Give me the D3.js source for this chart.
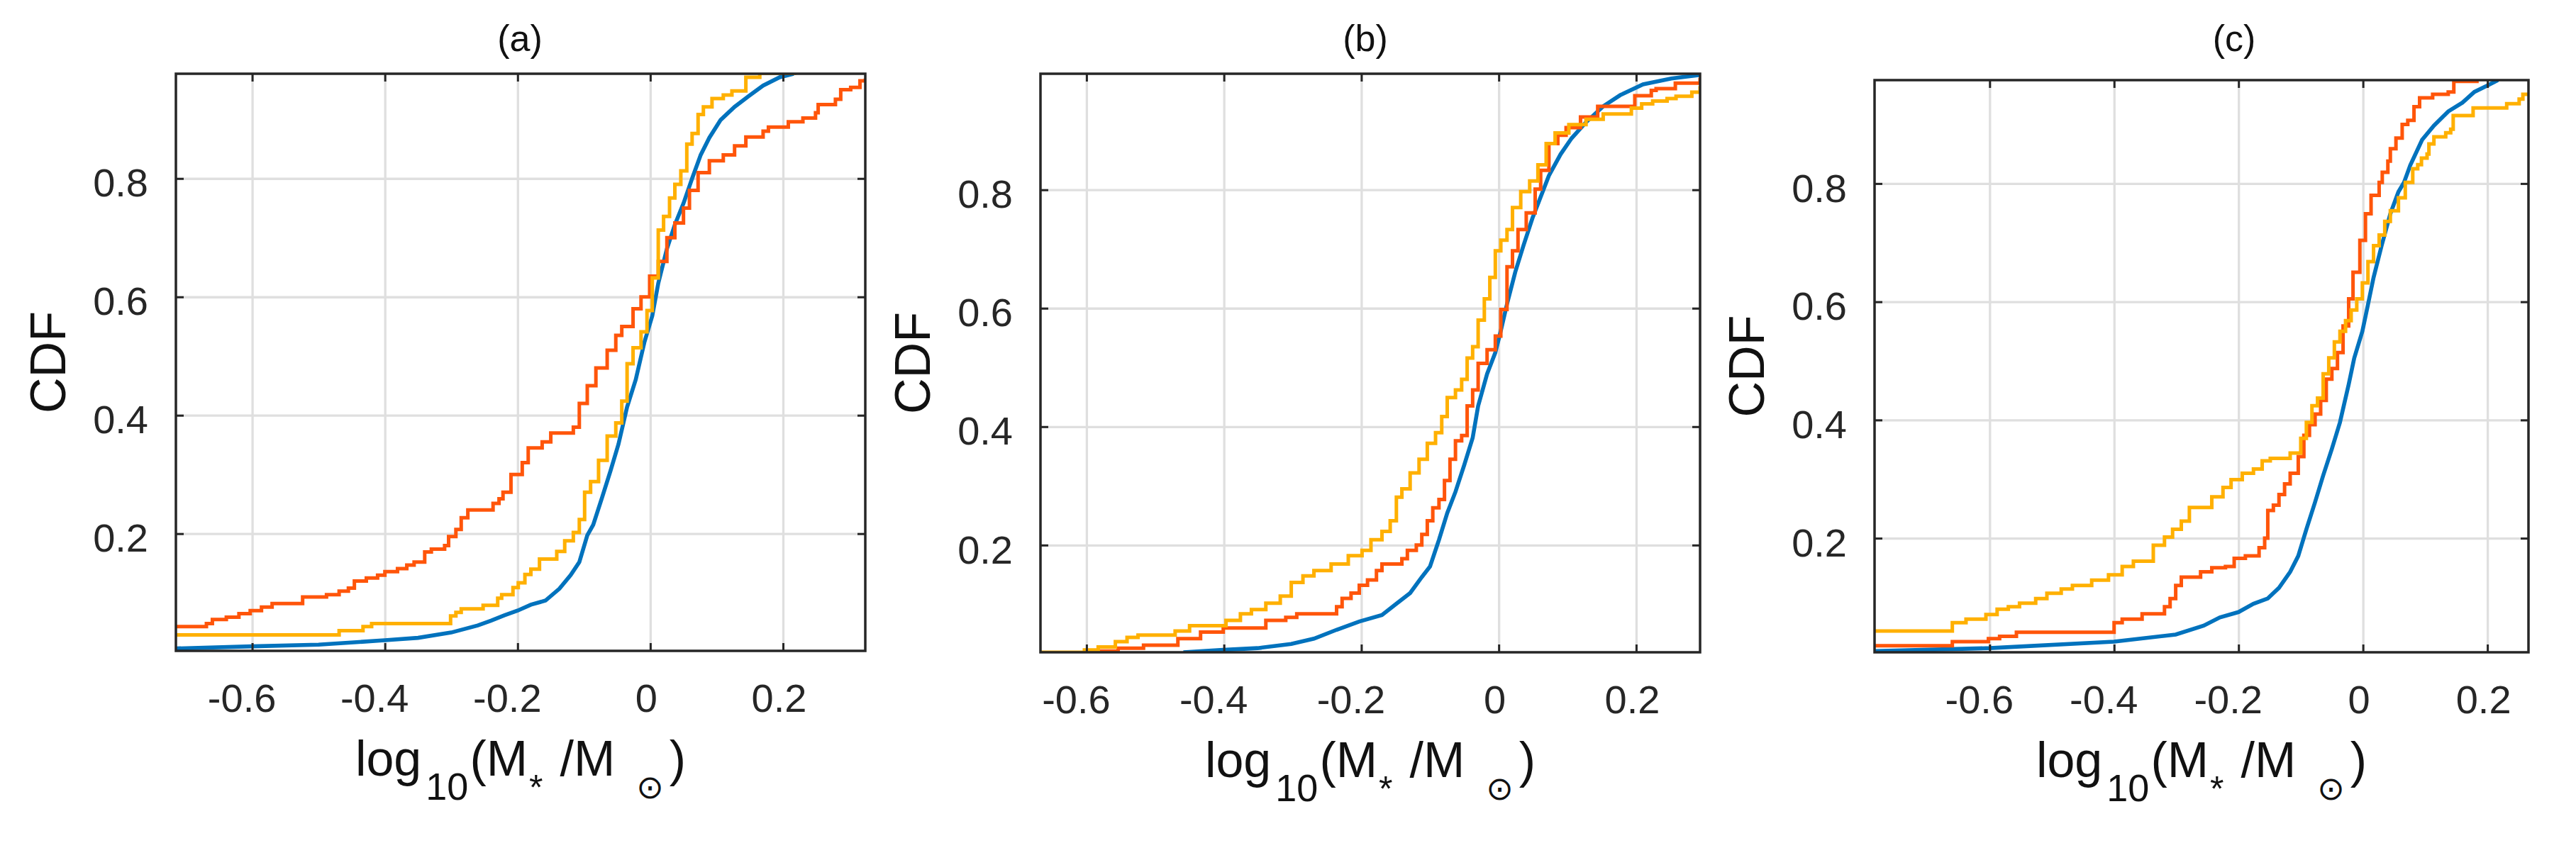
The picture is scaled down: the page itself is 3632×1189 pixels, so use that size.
<!DOCTYPE html>
<html>
<head>
<meta charset="utf-8">
<script src="https://d3js.org/d3.v7.min.js"></script>
<style>
body { margin: 0; background: #fff; }
svg { display: block; font-family: "Liberation Sans", Arial, sans-serif; }
.grid line { stroke: #dfdfdf; stroke-width: 3.3; }
.grid path { display: none; }
.ax path { display: none; }
.ax line { stroke: #262626; stroke-width: 3; }
.ax text { font-size: 56px; fill: #262626; font-family: "Liberation Sans", Arial, sans-serif; }
</style>
</head>
<body>
<svg id="chart" width="3632" height="1189"></svg>
<script>
// ticks and labels
var xTicks = [-0.6, -0.4, -0.2, 0, 0.2]
var yTicks = [0.2, 0.4, 0.6, 0.8]
var panelTitles = ["(a)", "(b)", "(c)"]
var yLabel = "CDF"
var seriesColors = ["#0072BD", "#FF550A", "#FFB000"]

// panel (a): [log10 mass, cdf]
var aBlue = [[-0.716,0.006],[-0.6,0.0096],[-0.5,0.0124],[-0.4,0.020],[-0.35,0.024],[-0.3,0.033],[-0.26,0.045],[-0.24,0.053],[-0.22,0.062],[-0.2,0.070],[-0.18,0.08],[-0.158,0.087],[-0.137,0.107],[-0.12,0.13],[-0.107,0.152],[-0.095,0.197],[-0.086,0.215],[-0.073,0.26],[-0.060,0.306],[-0.048,0.351],[-0.035,0.414],[-0.022,0.46],[-0.009,0.523],[0.003,0.568],[0.012,0.623],[0.025,0.681],[0.037,0.722],[0.050,0.758],[0.063,0.80],[0.076,0.84],[0.089,0.869],[0.106,0.899],[0.127,0.921],[0.148,0.939],[0.170,0.957],[0.195,0.971],[0.216,0.977]]
var aRed = [[-0.716,0.043],[-0.669,0.048],[-0.660,0.055],[-0.639,0.059],[-0.620,0.065],[-0.603,0.070],[-0.586,0.076],[-0.570,0.082],[-0.524,0.093],[-0.488,0.097],[-0.469,0.103],[-0.455,0.108],[-0.446,0.120],[-0.428,0.125],[-0.411,0.130],[-0.400,0.136],[-0.381,0.141],[-0.367,0.147],[-0.356,0.152],[-0.340,0.169],[-0.330,0.174],[-0.310,0.180],[-0.304,0.195],[-0.293,0.207],[-0.285,0.227],[-0.275,0.240],[-0.237,0.251],[-0.228,0.259],[-0.222,0.270],[-0.210,0.300],[-0.193,0.320],[-0.184,0.345],[-0.163,0.355],[-0.150,0.370],[-0.116,0.380],[-0.107,0.420],[-0.095,0.450],[-0.082,0.480],[-0.065,0.510],[-0.052,0.535],[-0.043,0.550],[-0.026,0.580],[-0.014,0.600],[-0.001,0.635],[0.012,0.660],[0.025,0.700],[0.037,0.725],[0.050,0.750],[0.059,0.780],[0.072,0.810],[0.089,0.830],[0.110,0.840],[0.127,0.855],[0.144,0.870],[0.170,0.880],[0.178,0.887],[0.208,0.896],[0.230,0.902],[0.249,0.911],[0.253,0.925],[0.279,0.934],[0.287,0.950],[0.302,0.954],[0.316,0.965],[0.324,0.969]]
var aYellow = [[-0.716,0.029],[-0.469,0.036],[-0.433,0.043],[-0.420,0.048],[-0.301,0.061],[-0.293,0.067],[-0.285,0.073],[-0.252,0.079],[-0.230,0.091],[-0.224,0.097],[-0.207,0.109],[-0.199,0.117],[-0.189,0.131],[-0.180,0.140],[-0.167,0.157],[-0.141,0.170],[-0.129,0.188],[-0.116,0.202],[-0.107,0.224],[-0.099,0.270],[-0.090,0.288],[-0.078,0.324],[-0.065,0.365],[-0.052,0.387],[-0.043,0.424],[-0.035,0.487],[-0.026,0.514],[-0.014,0.541],[-0.005,0.577],[0.003,0.632],[0.012,0.713],[0.020,0.736],[0.029,0.767],[0.037,0.790],[0.046,0.813],[0.055,0.858],[0.063,0.876],[0.072,0.908],[0.080,0.921],[0.093,0.935],[0.110,0.941],[0.123,0.948],[0.144,0.971],[0.165,0.978],[0.22,0.978]]

// panel (b)
var bBlue = [[-0.459,0.019],[-0.401,0.023],[-0.351,0.026],[-0.302,0.033],[-0.269,0.042],[-0.236,0.057],[-0.203,0.071],[-0.170,0.082],[-0.149,0.101],[-0.129,0.119],[-0.112,0.146],[-0.100,0.164],[-0.087,0.209],[-0.075,0.254],[-0.063,0.29],[-0.050,0.336],[-0.038,0.381],[-0.030,0.435],[-0.017,0.489],[-0.005,0.525],[0.003,0.562],[0.012,0.607],[0.024,0.661],[0.036,0.706],[0.049,0.752],[0.061,0.788],[0.073,0.824],[0.090,0.86],[0.106,0.887],[0.127,0.914],[0.152,0.941],[0.177,0.96],[0.210,0.978],[0.251,0.988],[0.293,0.994]]
var bRed = [[-0.600,0.021],[-0.554,0.026],[-0.517,0.031],[-0.467,0.042],[-0.434,0.053],[-0.401,0.060],[-0.339,0.073],[-0.310,0.078],[-0.294,0.084],[-0.236,0.096],[-0.228,0.110],[-0.215,0.119],[-0.203,0.132],[-0.191,0.141],[-0.178,0.157],[-0.170,0.168],[-0.141,0.177],[-0.133,0.191],[-0.120,0.200],[-0.112,0.218],[-0.104,0.241],[-0.096,0.263],[-0.087,0.277],[-0.079,0.309],[-0.071,0.345],[-0.063,0.376],[-0.054,0.385],[-0.046,0.435],[-0.038,0.462],[-0.030,0.507],[-0.017,0.530],[-0.005,0.553],[0.003,0.598],[0.012,0.670],[0.020,0.697],[0.028,0.733],[0.040,0.761],[0.053,0.801],[0.061,0.833],[0.073,0.878],[0.086,0.892],[0.098,0.905],[0.119,0.923],[0.144,0.941],[0.198,0.959],[0.222,0.968],[0.229,0.971],[0.257,0.980],[0.293,0.989]]
var bYellow = [[-0.667,0.019],[-0.603,0.023],[-0.583,0.028],[-0.558,0.037],[-0.541,0.044],[-0.525,0.048],[-0.471,0.055],[-0.450,0.064],[-0.397,0.073],[-0.376,0.084],[-0.360,0.091],[-0.339,0.102],[-0.318,0.114],[-0.302,0.137],[-0.285,0.148],[-0.269,0.157],[-0.244,0.168],[-0.219,0.182],[-0.199,0.191],[-0.186,0.209],[-0.170,0.223],[-0.158,0.241],[-0.149,0.281],[-0.141,0.295],[-0.129,0.322],[-0.116,0.345],[-0.104,0.372],[-0.092,0.390],[-0.083,0.417],[-0.075,0.449],[-0.063,0.462],[-0.054,0.480],[-0.046,0.516],[-0.038,0.535],[-0.030,0.580],[-0.021,0.616],[-0.013,0.652],[-0.005,0.697],[0.003,0.715],[0.012,0.733],[0.020,0.770],[0.032,0.797],[0.045,0.815],[0.057,0.842],[0.069,0.878],[0.082,0.896],[0.102,0.910],[0.127,0.919],[0.152,0.928],[0.193,0.938],[0.208,0.945],[0.224,0.950],[0.245,0.954],[0.258,0.958],[0.281,0.965],[0.293,0.975]]

// panel (c)
var cBlue = [[-0.786,0.009],[-0.6,0.014],[-0.4,0.025],[-0.301,0.037],[-0.256,0.052],[-0.230,0.066],[-0.200,0.075],[-0.176,0.089],[-0.153,0.098],[-0.135,0.116],[-0.117,0.143],[-0.104,0.17],[-0.091,0.215],[-0.077,0.261],[-0.064,0.306],[-0.050,0.351],[-0.037,0.396],[-0.023,0.46],[-0.014,0.505],[-0.001,0.55],[0.008,0.595],[0.017,0.641],[0.030,0.695],[0.044,0.749],[0.057,0.786],[0.066,0.802],[0.076,0.831],[0.095,0.874],[0.114,0.898],[0.137,0.922],[0.160,0.937],[0.179,0.955],[0.202,0.967],[0.217,0.975]]
var cRed = [[-0.786,0.018],[-0.660,0.025],[-0.602,0.030],[-0.584,0.034],[-0.557,0.041],[-0.400,0.057],[-0.387,0.063],[-0.355,0.072],[-0.319,0.084],[-0.310,0.098],[-0.301,0.120],[-0.292,0.134],[-0.261,0.143],[-0.243,0.150],[-0.221,0.152],[-0.207,0.166],[-0.189,0.170],[-0.167,0.184],[-0.158,0.200],[-0.153,0.247],[-0.144,0.256],[-0.135,0.274],[-0.126,0.292],[-0.117,0.310],[-0.104,0.338],[-0.095,0.374],[-0.086,0.392],[-0.077,0.410],[-0.068,0.433],[-0.059,0.469],[-0.050,0.487],[-0.041,0.514],[-0.032,0.559],[-0.023,0.605],[-0.016,0.650],[-0.005,0.704],[0.004,0.749],[0.013,0.780],[0.026,0.802],[0.031,0.819],[0.040,0.838],[0.044,0.859],[0.053,0.877],[0.063,0.900],[0.072,0.907],[0.082,0.930],[0.091,0.945],[0.112,0.951],[0.137,0.955],[0.146,0.973],[0.186,0.973]]
var cYellow = [[-0.786,0.043],[-0.660,0.057],[-0.638,0.063],[-0.606,0.071],[-0.588,0.080],[-0.570,0.084],[-0.552,0.090],[-0.526,0.098],[-0.508,0.107],[-0.485,0.114],[-0.467,0.120],[-0.436,0.129],[-0.409,0.138],[-0.387,0.152],[-0.369,0.161],[-0.337,0.188],[-0.319,0.202],[-0.306,0.215],[-0.292,0.229],[-0.279,0.252],[-0.243,0.270],[-0.225,0.286],[-0.212,0.299],[-0.194,0.310],[-0.176,0.317],[-0.162,0.331],[-0.149,0.335],[-0.117,0.344],[-0.100,0.369],[-0.091,0.396],[-0.082,0.424],[-0.073,0.437],[-0.064,0.478],[-0.055,0.505],[-0.046,0.532],[-0.037,0.550],[-0.028,0.568],[-0.019,0.586],[-0.010,0.605],[-0.001,0.632],[0.008,0.668],[0.017,0.695],[0.026,0.713],[0.035,0.736],[0.044,0.754],[0.057,0.776],[0.068,0.802],[0.080,0.825],[0.088,0.832],[0.094,0.843],[0.103,0.850],[0.106,0.867],[0.114,0.879],[0.133,0.886],[0.141,0.892],[0.145,0.915],[0.177,0.928],[0.231,0.935],[0.251,0.943],[0.257,0.951],[0.266,0.953]]

var xDomains = [[-0.715,0.324],[-0.667,0.293],[-0.785,0.266]]
var yDomains = [[0.002,0.977],[0.019,0.996],[0.007,0.975]]
var panelCurves = [[aBlue,aRed,aYellow],[bBlue,bRed,bYellow],[cBlue,cRed,cYellow]]

// layout in pixels
var boxes = [
    {left:248, right:1220, top:104, bottom:918, titleX:733},
    {left:1467, right:2397, top:104, bottom:920, titleX:1925},
    {left:2643, right:3565, top:113, bottom:920, titleX:3150}
]

var svg = d3.select("#chart")
svg.append("rect").attr("width",3632).attr("height",1189).attr("fill","#fff")

for (var i = 0; i < boxes.length; i++) {
    drawPanel(i)
}

function tickText(d){
    return String(d)
}

function drawPanel(i){
    var b = boxes[i]
    var w = b.right - b.left
    var h = b.bottom - b.top
    var x = d3.scaleLinear().domain(xDomains[i]).range([0,w])
    var y = d3.scaleLinear().domain(yDomains[i]).range([h,0])
    var g = svg.append("g").attr("transform","translate("+b.left+","+b.top+")")

    // grid
    g.append("g").attr("class","grid").attr("transform","translate(0,"+h+")")
        .call(d3.axisBottom(x).tickValues(xTicks).tickSize(-h).tickFormat(""))
    g.append("g").attr("class","grid")
        .call(d3.axisLeft(y).tickValues(yTicks).tickSize(-w).tickFormat(""))

    // curves
    var clipId = "clip"+i
    g.append("clipPath").attr("id",clipId).append("rect").attr("width",w).attr("height",h)
    var curves = panelCurves[i]
    for (var k = 0; k < curves.length; k++) {
        var line = d3.line()
            .x(function(d){return x(d[0])})
            .y(function(d){return y(d[1])})
            .curve(k==0 ? d3.curveLinear : d3.curveStepAfter)
        g.append("path")
            .datum(curves[k])
            .attr("clip-path","url(#"+clipId+")")
            .attr("fill","none")
            .attr("stroke",seriesColors[k])
            .attr("stroke-width",k==0 ? 5.6 : 5)
            .attr("d",line)
    }

    // ticks, inward on all four sides
    var bottomAx = g.append("g").attr("class","ax").attr("transform","translate(0,"+h+")")
        .call(d3.axisBottom(x).tickValues(xTicks).tickSize(-11).tickPadding(46).tickFormat(tickText))
    bottomAx.selectAll("text").attr("dx",function(d){return d<0 ? -15 : -6})
    g.append("g").attr("class","ax")
        .call(d3.axisTop(x).tickValues(xTicks).tickSize(-11).tickFormat(""))
    var leftAx = g.append("g").attr("class","ax")
        .call(d3.axisLeft(y).tickValues(yTicks).tickSize(-11).tickPadding(39).tickFormat(tickText))
    leftAx.selectAll("text").attr("dy","0.45em")
    g.append("g").attr("class","ax").attr("transform","translate("+w+",0)")
        .call(d3.axisRight(y).tickValues(yTicks).tickSize(-11).tickFormat(""))

    // box
    g.append("rect").attr("width",w).attr("height",h)
        .attr("fill","none").attr("stroke","#262626").attr("stroke-width",3.5)

    // title
    svg.append("text").attr("x",b.titleX).attr("y",72)
        .attr("text-anchor","middle").attr("font-size",52).attr("fill","#111")
        .text(panelTitles[i])

    // y label
    svg.append("text")
        .attr("transform","translate("+(b.left-156)+","+(b.top+h/2)+") rotate(-90)")
        .attr("text-anchor","middle").attr("font-size",70).attr("fill","#111")
        .text(yLabel)

    // x label: log10(M* /M sun)
    var xl = svg.append("text").attr("x",b.left+w/2).attr("y",b.bottom+176)
        .attr("text-anchor","middle").attr("font-size",70).attr("fill","#111")
    xl.append("tspan").text("log")
    xl.append("tspan").attr("font-size",54).attr("dx",6).attr("dy",34).text("10")
    xl.append("tspan").attr("dx",2).attr("dy",-34).text("(M")
    xl.append("tspan").attr("font-size",50).attr("dx",2).attr("dy",34).text("*")
    xl.append("tspan").attr("dx",24).attr("dy",-34).text("/M")
    xl.append("tspan").attr("font-size",46).attr("font-family","DejaVu Sans").attr("dx",30).attr("dy",32).text("\u2299")
    xl.append("tspan").attr("dx",8).attr("dy",-32).text(")")
}
</script>
</body>
</html>
